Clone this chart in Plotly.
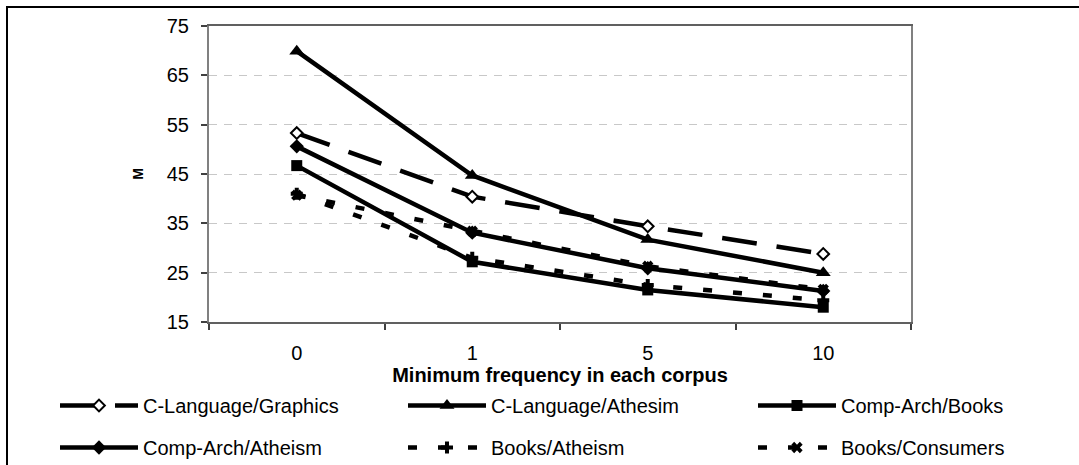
import plotly.graph_objects as go

# ---- data ----
categories = ["0", "1", "5", "10"]
series_names = ["C-Language/Graphics", "C-Language/Athesim", "Comp-Arch/Books",
                "Comp-Arch/Atheism", "Books/Atheism", "Books/Consumers"]
c_lang_graphics = [53.3, 40.4, 34.4, 28.8]
c_lang_athesim = [69.9, 44.7, 31.7, 25.0]
comp_arch_books = [46.7, 27.2, 21.5, 18.0]
comp_arch_atheism = [50.6, 33.1, 25.9, 21.3]
books_atheism = [41.0, 28.0, 22.5, 19.4]
books_consumers = [40.7, 33.4, 26.3, 21.6]
y_ticks = [15, 25, 35, 45, 55, 65, 75]

W, H = 1079, 465
L, R, T, B = 209, 168, 26, 143
PW, PH = W - L - R, H - T - B

def px_x(p):
    return (p - L) / PW

def px_y(p):
    return (H - B - p) / PH

FONT = "Liberation Sans, Arial, sans-serif"

styles = [
    dict(data=c_lang_graphics, dash="35px,20px", width=4.5,
         marker=dict(symbol="diamond", size=9, color="white", line=dict(color="black", width=2)),
         legend="legend", group="g1"),
    dict(data=c_lang_athesim, dash="solid", width=4.5,
         marker=dict(symbol="triangle-up", size=13, color="black"),
         legend="legend2", group="g2"),
    dict(data=comp_arch_books, dash="solid", width=4.5,
         marker=dict(symbol="square", size=11, color="black"),
         legend="legend3", group="g3"),
    dict(data=comp_arch_atheism, dash="solid", width=4.5,
         marker=dict(symbol="diamond", size=11, color="black"),
         legend="legend", group="g4"),
    dict(data=books_atheism, dash="9px,21px", width=4.5,
         marker=dict(symbol="cross", size=10, color="black"),
         legend="legend2", group="g5"),
    dict(data=books_consumers, dash="9px,21px", width=4.5,
         marker=dict(symbol="x", size=10, color="black"),
         legend="legend3", group="g6"),
]

fig = go.Figure()
for name, st in zip(series_names, styles):
    fig.add_trace(go.Scatter(
        x=categories, y=st["data"], name=name, mode="lines+markers",
        line=dict(color="black", width=st["width"], dash=st["dash"]),
        marker=st["marker"], legend=st["legend"], legendgroup=st["group"],
    ))

legend_common = dict(
    orientation="v", xanchor="left", yanchor="top",
    font=dict(family=FONT, size=20, color="black"),
    itemwidth=78, tracegroupgap=13, bgcolor="rgba(0,0,0,0)",
    y=px_y(386),
)

fig.update_layout(
    width=W, height=H,
    margin=dict(l=L, r=R, t=T, b=B, autoexpand=False),
    paper_bgcolor="white", plot_bgcolor="white",
    font=dict(family=FONT, size=20, color="black"),
    showlegend=True,
    legend=dict(x=px_x(55), **legend_common),
    legend2=dict(x=px_x(403), **legend_common),
    legend3=dict(x=px_x(753), **legend_common),
    xaxis=dict(
        type="category", range=[-0.5, 3.5], tickson="boundaries",
        ticks="outside", ticklen=6, tickwidth=1.5, tickcolor="#404040",
        showline=True, linecolor="#606060", linewidth=2, mirror=True,
        showgrid=False, zeroline=False,
        tickfont=dict(family=FONT, size=20, color="black"),
        ticklabelstandoff=12,
        title=dict(text="<b>Minimum frequency in each corpus</b>",
                   font=dict(family=FONT, size=20, color="black"), standoff=2),
    ),
    yaxis=dict(
        range=[15, 75], tickvals=y_ticks, ticktext=[str(v) for v in y_ticks],
        ticks="outside", ticklen=6, tickwidth=1.5, tickcolor="#404040",
        showline=True, linecolor="#808080", linewidth=2, mirror=True,
        showgrid=True, gridcolor="#c8c8c8", gridwidth=1, griddash="8px,7px",
        zeroline=False,
        tickfont=dict(family=FONT, size=20, color="black"),
        ticklabelstandoff=8,
        title=dict(text="<b>M</b>", font=dict(family=FONT, size=14, color="black"), standoff=20),
    ),
    shapes=[dict(type="rect", xref="paper", yref="paper",
                 x0=px_x(7), x1=px_x(1100), y0=px_y(7), y1=px_y(500),
                 line=dict(color="black", width=2), fillcolor="rgba(0,0,0,0)", layer="below")],
)

fig.write_html("out.html")
